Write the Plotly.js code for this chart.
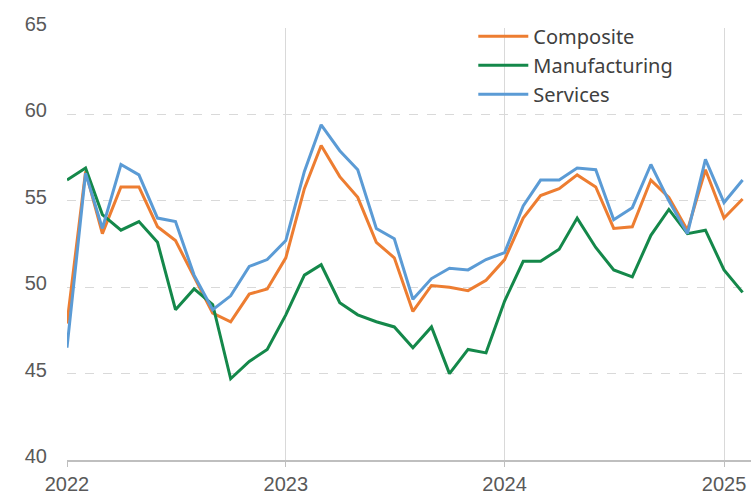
<!DOCTYPE html>
<html>
<head>
<meta charset="utf-8">
<script src="https://cdn.plot.ly/plotly-3.0.1.min.js"></script>
<style>html,body{margin:0;padding:0;background:#fff;}#chart{width:751px;height:493px;}</style>
</head>
<body>
<div id="chart"></div>
<script>
var months = [
  '2022-01-01','2022-02-01','2022-03-01','2022-04-01','2022-05-01','2022-06-01','2022-07-01','2022-08-01','2022-09-01','2022-10-01','2022-11-01','2022-12-01',
  '2023-01-01','2023-02-01','2023-03-01','2023-04-01','2023-05-01','2023-06-01','2023-07-01','2023-08-01','2023-09-01','2023-10-01','2023-11-01','2023-12-01',
  '2024-01-01','2024-02-01','2024-03-01','2024-04-01','2024-05-01','2024-06-01','2024-07-01','2024-08-01','2024-09-01','2024-10-01','2024-11-01','2024-12-01',
  '2025-01-01','2025-02-01'
];
var composite = [
  47.9, 56.7, 53.1, 55.8, 55.8, 53.5, 52.7, 50.6, 48.5, 48.0, 49.6, 49.9,
  51.7, 55.7, 58.2, 56.4, 55.2, 52.6, 51.7, 48.6, 50.1, 50.0, 49.8, 50.4,
  51.6, 54.0, 55.3, 55.7, 56.5, 55.8, 53.4, 53.5, 56.2, 55.2, 53.3, 56.8,
  54.0, 55.1
];
var manufacturing = [
  56.2, 56.9, 54.2, 53.3, 53.8, 52.6, 48.7, 49.9, 49.0, 44.7, 45.7, 46.4,
  48.4, 50.7, 51.3, 49.1, 48.4, 48.0, 47.7, 46.5, 47.7, 45.0, 46.4, 46.2,
  49.2, 51.5, 51.5, 52.2, 54.0, 52.3, 51.0, 50.6, 53.0, 54.5, 53.1, 53.3,
  51.0, 49.7
];
var services = [
  46.5, 56.6, 53.4, 57.1, 56.5, 54.0, 53.8, 50.7, 48.7, 49.5, 51.2, 51.6,
  52.7, 56.7, 59.4, 57.9, 56.8, 53.4, 52.8, 49.3, 50.5, 51.1, 51.0, 51.6,
  52.0, 54.7, 56.2, 56.2, 56.9, 56.8, 53.9, 54.6, 57.1, 55.0, 53.1, 57.4,
  54.9, 56.2
];
var seriesNames = ['Composite', 'Manufacturing', 'Services'];
var yearTicks = ['2022-01-01', '2023-01-01', '2024-01-01', '2025-01-01'];
var yearLabels = ['2022', '2023', '2024', '2025'];
var yTicks = [40, 45, 50, 55, 60, 65];

var colors = ['#ED7D31', '#14884A', '#5B9BD5'];
var data = [composite, manufacturing, services].map(function (v, i) {
  return {
    x: months, y: v, type: 'scatter', mode: 'lines', name: seriesNames[i],
    line: {color: colors[i], width: 3}
  };
});

var layout = {
  width: 751, height: 493,
  margin: {l: 67, r: 0, t: 28, b: 33, pad: 0},
  paper_bgcolor: '#fff', plot_bgcolor: '#fff',
  font: {family: 'Liberation Sans, Arial, sans-serif', size: 20, color: '#595959'},
  showlegend: true,
  legend: {
    x: 0.594, y: 1.026, xanchor: 'left', yanchor: 'top',
    bgcolor: 'rgba(0,0,0,0)', borderwidth: 0,
    font: {family: 'Noto Sans, sans-serif', size: 20, color: '#404040'},
    itemwidth: 50, tracegroupgap: 0
  },
  xaxis: {
    type: 'date', range: ['2022-01-01', '2025-02-15'],
    tickvals: yearTicks, ticktext: yearLabels,
    showgrid: true, gridcolor: '#d9d9d9', gridwidth: 1,
    showline: true, linecolor: '#bfbfbf', linewidth: 1.5,
    ticks: 'outside', ticklen: 5, tickcolor: '#bfbfbf',
    zeroline: false, fixedrange: true
  },
  yaxis: {
    range: [40, 65], tickvals: yTicks,
    showgrid: true, gridcolor: '#d9d9d9', gridwidth: 1, griddash: 'dash',
    showline: false, zeroline: false, ticks: '',
    ticklabelstandoff: 19, ticklabelshift: -4, fixedrange: true
  }
};

Plotly.newPlot('chart', data, layout, {displayModeBar: false, staticPlot: true});
</script>
</body>
</html>
